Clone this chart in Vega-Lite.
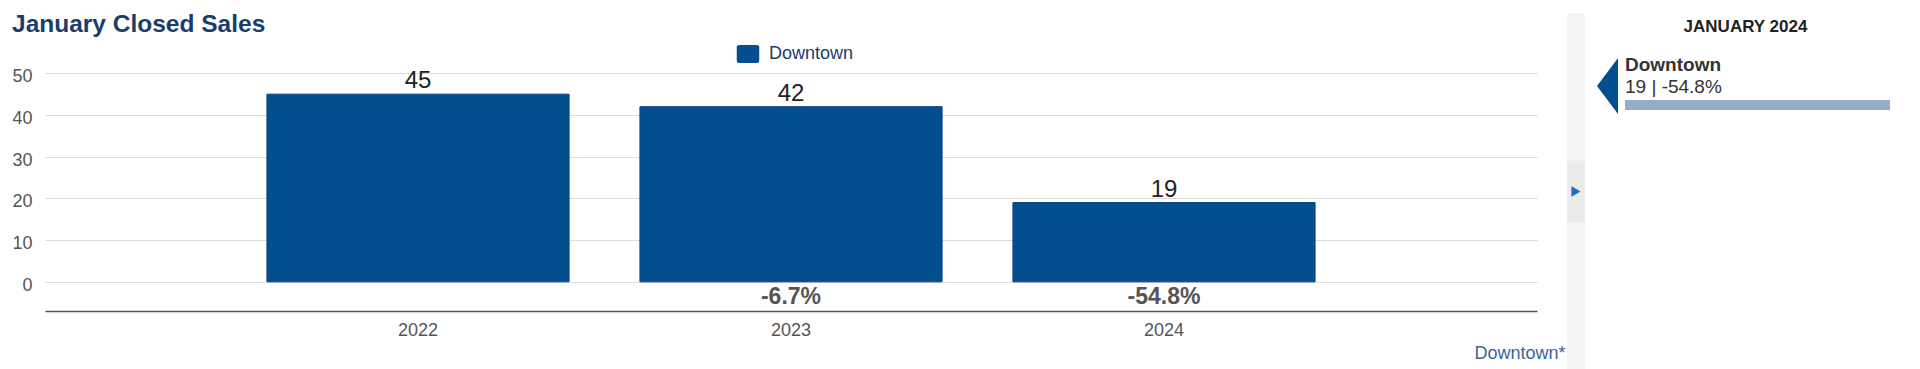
{
  "$schema": "https://vega.github.io/schema/vega-lite/v6.json",
  "background": "white",
  "padding": {"left": 0, "top": 12, "right": 0, "bottom": 0},
  "config": {
    "font": "Liberation Sans",
    "view": {"stroke": null},
    "concat": {"spacing": 2}
  },
  "datasets": {
    "sales": [
      {"year": "2022", "region": "Downtown", "sales": 45, "change": ""},
      {"year": "2023", "region": "Downtown", "sales": 42, "change": "-6.7%"},
      {"year": "2024", "region": "Downtown", "sales": 19, "change": "-54.8%"}
    ],
    "current": [
      {"month": "JANUARY 2024", "region": "Downtown", "sales": 19, "change": "-54.8%", "label": "19 | -54.8%"}
    ],
    "toggle": [{"panel": "collapse"}]
  },
  "hconcat": [
    {
      "width": 1492,
      "height": 298,
      "data": {"name": "sales"},
      "title": {
        "text": "January Closed Sales",
        "anchor": "start",
        "frame": "bounds",
        "fontSize": 24.5,
        "fontWeight": "bold",
        "color": "#1b3d6b",
        "dx": 12,
        "offset": -24.7
      },
      "encoding": {
        "x": {
          "field": "year",
          "type": "ordinal",
          "scale": {"paddingInner": 0.19, "paddingOuter": 0.595},
          "axis": {
            "title": "Downtown*",
            "titleColor": "#3b6596",
            "titleFontSize": 18,
            "titleFontWeight": "normal",
            "titleAnchor": "end",
            "titleAlign": "right",
            "titleBaseline": "alphabetic",
            "titleX": 1520,
            "titleY": 47,
            "labelAngle": 0,
            "labelFontSize": 18,
            "labelColor": "#555555",
            "labelPadding": 10,
            "ticks": false,
            "domainColor": "#555555",
            "domainWidth": 1.5,
            "grid": false
          }
        }
      },
      "layer": [
        {
          "mark": {"type": "bar", "stroke": "#0a3f80", "strokeWidth": 1},
          "encoding": {
            "y": {
              "field": "sales",
              "type": "quantitative",
              "scale": {"domain": [-7, 64.46], "nice": false, "zero": false},
              "axis": {
                "title": null,
                "values": [0, 10, 20, 30, 40, 50],
                "grid": true,
                "gridColor": "#dcdcdc",
                "gridWidth": 1,
                "domain": false,
                "ticks": false,
                "labelFontSize": 18,
                "labelColor": "#555555",
                "labelPadding": 13,
                "labelOffset": 3.5,
                "minExtent": 45,
                "maxExtent": 45
              }
            },
            "color": {
              "field": "region",
              "type": "nominal",
              "scale": {"range": ["#024e8e"]},
              "legend": {
                "title": null,
                "orient": "none",
                "legendX": 694,
                "legendY": 32,
                "padding": 0,
                "symbolType": "M-1.25,-0.75Q-1.25,-1,-1,-1H1Q1.25,-1,1.25,-0.75V0.75Q1.25,1,1,1H-1Q-1.25,1,-1.25,0.75Z",
                "symbolSize": 324,
                "symbolStrokeWidth": 0,
                "labelFontSize": 18,
                "labelColor": "#1b3d6b",
                "labelOffset": 12
              }
            }
          }
        },
        {
          "mark": {"type": "text", "baseline": "alphabetic", "dy": -6, "fontSize": 24, "color": "#222222"},
          "encoding": {
            "y": {"field": "sales", "type": "quantitative"},
            "text": {"field": "sales", "type": "quantitative"}
          }
        },
        {
          "mark": {"type": "text", "baseline": "middle", "dy": 15, "fontSize": 23, "fontWeight": "bold", "color": "#555555"},
          "encoding": {
            "y": {"datum": 0},
            "text": {"field": "change", "type": "nominal"}
          }
        }
      ]
    },
    {
      "width": 18,
      "height": 357,
      "view": {"fill": "#f5f5f5", "stroke": null},
      "data": {"name": "toggle"},
      "layer": [
        {
          "mark": {"type": "rect", "color": "#ebebeb"},
          "encoding": {
            "y": {"field": "panel", "type": "nominal", "scale": {"paddingOuter": 1, "paddingInner": 0.58}, "axis": null}
          }
        },
        {
          "mark": {"type": "point", "shape": "triangle-right", "filled": true, "color": "#1a6fc4", "size": 110, "opacity": 1},
          "encoding": {
            "y": {"field": "panel", "type": "nominal", "axis": null}
          }
        }
      ]
    },
    {
      "width": 265,
      "height": 97,
      "data": {"name": "current"},
      "title": {
        "text": "JANUARY 2024",
        "anchor": "middle",
        "fontSize": 17,
        "fontWeight": "bold",
        "color": "#222222",
        "dx": -12,
        "offset": -23
      },
      "encoding": {
        "y": {"field": "region", "type": "nominal", "scale": {"paddingInner": 0.77, "paddingOuter": 1, "align": 1}, "axis": {"title": null, "labels": false, "ticks": false, "domain": false, "grid": false, "minExtent": 38, "maxExtent": 38}}
      },
      "layer": [
        {
          "mark": {"type": "bar", "color": "#95adc9"},
          "encoding": {
            "x": {"field": "sales", "type": "quantitative", "scale": {"nice": false}, "axis": null}
          }
        },
        {
          "mark": {"type": "text", "align": "left", "baseline": "alphabetic", "dy": -34, "fontSize": 19, "fontWeight": "bold", "color": "#333333"},
          "encoding": {
            "x": {"datum": 0},
            "text": {"field": "region", "type": "nominal"}
          }
        },
        {
          "mark": {"type": "text", "align": "left", "baseline": "alphabetic", "dy": -12, "fontSize": 19, "color": "#333333"},
          "encoding": {
            "x": {"datum": 0},
            "text": {"field": "label", "type": "nominal"}
          }
        },
        {
          "mark": {"type": "point", "shape": "M0.375,-1L0.375,1L-0.375,0Z", "filled": true, "color": "#024e8e", "size": 3136, "opacity": 1, "xOffset": -17.5, "yOffset": -19},
          "encoding": {
            "x": {"datum": 0}
          }
        }
      ]
    }
  ]
}
